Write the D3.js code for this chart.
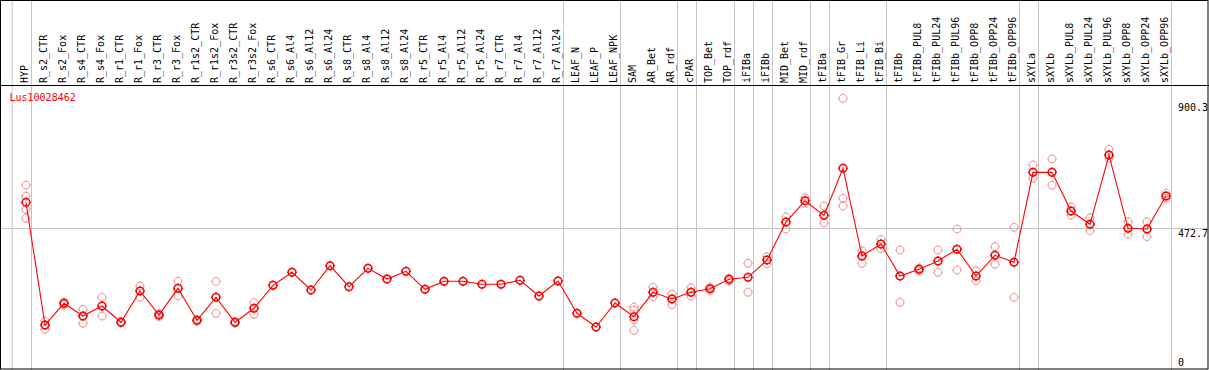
<!DOCTYPE html>
<html>
<head>
<meta charset="utf-8">
<script src="https://cdn.jsdelivr.net/npm/d3@7"></script>
<style>
  body { margin: 0; background: #fff; }
  text { font-family: "DejaVu Sans Mono", monospace; font-size: 10px; }
</style>
</head>
<body>
<div id="chart"></div>
<script>
// gene shown
const title = "Lus10028462";

const categories = ["HYP","R_s2_CTR","R_s2_Fox","R_s4_CTR","R_s4_Fox","R_r1_CTR","R_r1_Fox","R_r3_CTR","R_r3_Fox",
  "R_r1s2_CTR","R_r1s2_Fox","R_r3s2_CTR","R_r3s2_Fox","R_s6_CTR","R_s6_Al4","R_s6_Al12","R_s6_Al24",
  "R_s8_CTR","R_s8_Al4","R_s8_Al12","R_s8_Al24","R_r5_CTR","R_r5_Al4","R_r5_Al12","R_r5_Al24",
  "R_r7_CTR","R_r7_Al4","R_r7_Al12","R_r7_Al24","LEAF_N","LEAF_P","LEAF_NPK","SAM","AR_Bet","AR_rdf",
  "cPAR","TOP_Bet","TOP_rdf","iFIBa","iFIBb","MID_Bet","MID_rdf","tFIBa","tFIB_Gr","tFIB_Li","tFIB_Bi",
  "tFIBb","tFIBb_PUL8","tFIBb_PUL24","tFIBb_PUL96","tFIBb_OPP8","tFIBb_OPP24","tFIBb_OPP96",
  "sXYLa","sXYLb","sXYLb_PUL8","sXYLb_PUL24","sXYLb_PUL96","sXYLb_OPP8","sXYLb_OPP24","sXYLb_OPP96"];

// mean expression per sample
const means = [556.5,151.0,222.7,180.8,213.8,160.0,263.4,184.1,272.3,166.6,242.6,160.0,206.2,
  282.2,325.2,266.7,347.0,277.6,338.4,303.0,328.5,269.0,295.4,295.4,285.5,285.5,298.7,246.9,296.4,
  189.7,144.4,223.7,178.5,259.1,236.9,259.1,271.0,302.0,308.7,365.8,491.4,561.8,513.5,668.9,379.1,
  418.7,313.0,335.1,362.5,401.2,313.0,381.4,358.2,655.6,655.6,527.7,483.8,712.8,470.6,468.3,577.3];

// replicate values
const replicates = [
  [613.7,577.3,533.4,503.6],[164.2,151.0,136.8],[227.0,222.7,217.1],[202.9,180.8,156.6],
  [242.6,213.8,180.8],[161.9,160.0,157.6],[279.9,263.4,242.6],[189.7,184.1,178.5],
  [296.4,272.3,246.9],[169.2,166.6,162.6],[294.8,242.6,189.7],[162.6,160.0,156.0],
  [225.4,206.2,186.4],[282.2],[325.2],[266.7],[347.0],[277.6],[338.4],[303.0],[328.5],[269.0],
  [295.4],[295.4],[285.5],[285.5],[298.7],[246.9],[296.4],[189.7],[144.4],[223.7],
  [210.5,200.6,167.5,133.4],[275.6,259.1,244.5],[253.5,236.9,218.1],[274.3,259.1,246.9],
  [275.6,271.0,264.4],[306.3,302.0,296.4],[354.9,259.1],[376.7,365.8,352.6],
  [508.9,491.4,468.3],[571.7,561.8,553.2],[544.3,513.5,489.1],[900.3,569.7,544.3],
  [396.6,379.1,354.9],[434.2,418.7,403.2],[398.9,313.0,226.0],[339.4,335.1,329.5],
  [398.9,362.5,325.2],[468.3,401.2,332.8],[330.5,313.0,297.4],[409.8,381.4,351.6],
  [473.9,358.2,242.6],[679.8,655.6,635.8],[699.6,655.6,612.7],[542.0,527.7,514.5],
  [505.6,483.8,462.7],[731.7,712.8,701.9],[492.4,470.6,451.8],[492.4,468.3,442.8],
  [586.3,577.3,569.7]];

// last sample of each tissue group (grey separators)
const groupEnds = ["HYP","R_r7_Al24","LEAF_NPK","AR_rdf","cPAR","TOP_rdf","iFIBa","iFIBb",
  "MID_rdf","tFIBa","tFIB_Bi","tFIBb_OPP96","sXYLa","sXYLb_OPP96"];

const tickValues = [900.3, 472.7, 0];
const refValue = 472.7;

// init size
const width = 1209, height = 370;
const headerH = 85;

const x = d3.scaleBand().domain(categories).range([11.7, 1170.7]);
const px = d => x(d) + 14.3;
const y = d3.scaleLinear().domain([0, 900.3]).range([370.7, 98.3]);

const svg = d3.select('#chart').append('svg')
    .attr('width', width).attr('height', height);

// grey separators
svg.selectAll('.sep')
    .data([categories[0]]).enter().append('line')
    .attr('x1', d => x(d) + 0.5).attr('x2', d => x(d) + 0.5)
    .attr('y1', 0).attr('y2', height)
    .attr('stroke', '#c4c4c4');

svg.selectAll('.group-sep')
    .data(groupEnds).enter().append('line')
    .attr('class', 'group-sep')
    .attr('x1', d => Math.round(x(d) + x.bandwidth()) + 0.5)
    .attr('x2', d => Math.round(x(d) + x.bandwidth()) + 0.5)
    .attr('y1', 0).attr('y2', height)
    .attr('stroke', '#c4c4c4');

svg.append('line')
    .attr('x1', 1).attr('x2', width - 1)
    .attr('y1', Math.round(y(refValue)) + 0.5).attr('y2', Math.round(y(refValue)) + 0.5)
    .attr('stroke', '#c4c4c4');

// frame
svg.append('rect')
    .attr('x', 0.5).attr('y', 0.5)
    .attr('width', width - 1.5).attr('height', height - 1.5)
    .attr('fill', 'none').attr('stroke', '#000');
svg.append('line')
    .attr('x1', 0).attr('x2', width)
    .attr('y1', headerH + 0.5).attr('y2', headerH + 0.5)
    .attr('stroke', '#000');

// column labels
svg.selectAll('.col-label')
    .data(categories).enter().append('text')
    .attr('class', 'col-label')
    .attr('transform', d => "translate(" + (px(d) + 2.3) + "," + (headerH - 2) + ") rotate(-90)")
    .attr('fill', '#000')
    .text(d => d);

// value labels on right
svg.selectAll('.val-label')
    .data(tickValues).enter().append('text')
    .attr('class', 'val-label')
    .attr('x', 1178)
    .attr('y', d => Math.max(110.7, Math.min(365.7, y(d) + 9)))
    .attr('fill', '#000')
    .text(d => d);

svg.append('text')
    .attr('x', 9.5).attr('y', 101)
    .attr('fill', '#ff0000')
    .text(title);

// marker: ring plus tiny ticks
const ringPath = "M0,-3.8A3.8,3.8 0 1,1 0,3.8A3.8,3.8 0 1,1 0,-3.8";
const tickPath = "M0,-5V-4M0,4V5M-5,0H-4M4,0H5";

function drawMarker(sel, color, sw){
    sel.append('path').attr('d', ringPath)
        .attr('fill', 'none').attr('stroke', color).attr('stroke-width', sw);
    sel.append('path').attr('d', tickPath)
        .attr('fill', 'none').attr('stroke', color).attr('stroke-width', 1);
}

const rows = categories.map((c, i) => ({ c: c, mean: means[i], reps: replicates[i] }));

// replicates
let repG = svg.selectAll('.rep-group')
    .data(rows).enter().append('g')
    .attr('class', 'rep-group');

repG.selectAll('.rep')
    .data(d => d.reps.map(v => ({ c: d.c, v: v })))
    .enter().append('g')
    .attr('class', 'rep')
    .attr('transform', d => "translate(" + px(d.c) + "," + y(d.v) + ")")
    .call(drawMarker, '#f0a0a0', 1.1);

// mean line
svg.append('path')
    .datum(rows)
    .attr('d', d3.line().x(d => px(d.c)).y(d => y(d.mean)))
    .attr('fill', 'none')
    .attr('stroke', '#ff0000')
    .attr('stroke-width', 1.1);

svg.selectAll('.mean')
    .data(rows).enter().append('g')
    .attr('class', 'mean')
    .attr('transform', d => "translate(" + px(d.c) + "," + y(d.mean) + ")")
    .call(drawMarker, '#ff0000', 1.5);
</script>
</body>
</html>
